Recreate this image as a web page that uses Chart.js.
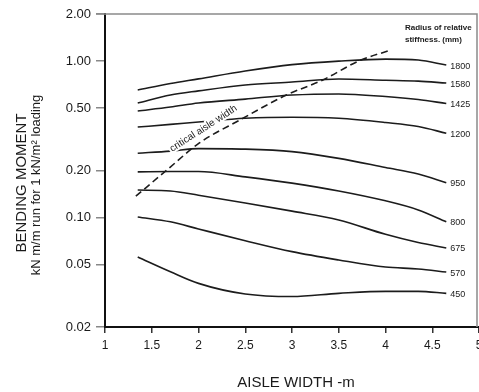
<!DOCTYPE html>
<html>
<head>
<meta charset="utf-8">
<script src="https://cdn.jsdelivr.net/npm/chart.js@4.4.1/dist/chart.umd.min.js"></script>
<style>
html,body{margin:0;padding:0;background:#fff;}
#wrap{width:479px;height:392px;position:relative;}
</style>
</head>
<body>
<div id="wrap"><canvas id="c" width="479" height="392"></canvas></div>
<script>
// ---- data ----
const aisleWidth = [1.35, 1.7, 2.0, 2.5, 3.0, 3.5, 4.0, 4.35, 4.65];
const stiffnessLabels = ['1800', '1580', '1425', '1200', '950', '800', '675', '570', '450'];
const m1800 = [0.654, 0.719, 0.77, 0.865, 0.95, 1.0, 1.03, 1.016, 0.944];
const m1580 = [0.54, 0.607, 0.645, 0.704, 0.735, 0.769, 0.755, 0.745, 0.724];
const m1425 = [0.48, 0.509, 0.54, 0.572, 0.607, 0.617, 0.594, 0.568, 0.536];
const m1200 = [0.379, 0.394, 0.408, 0.431, 0.438, 0.431, 0.405, 0.382, 0.346];
const m950  = [0.258, 0.266, 0.276, 0.274, 0.264, 0.239, 0.209, 0.190, 0.167];
const m800  = [0.196, 0.197, 0.197, 0.182, 0.166, 0.148, 0.128, 0.112, 0.094];
const m675  = [0.150, 0.148, 0.139, 0.124, 0.110, 0.0966, 0.0782, 0.0693, 0.064];
const m570  = [0.101, 0.094, 0.0846, 0.0712, 0.0606, 0.0536, 0.0483, 0.047, 0.0449];
const m450  = [0.056, 0.0451, 0.038, 0.0325, 0.0313, 0.0328, 0.0338, 0.0338, 0.0328];
const criticalX = [1.33, 1.66, 2.01, 2.44, 2.94, 3.33, 3.72, 4.06];
const criticalY = [0.137, 0.201, 0.30, 0.42, 0.607, 0.758, 1.006, 1.178];
const xTicks = [1, 1.5, 2, 2.5, 3, 3.5, 4, 4.5, 5];
const yTicks = [0.02, 0.05, 0.10, 0.20, 0.50, 1.00, 2.00];

const FONT = "'Liberation Sans', Arial, sans-serif";
const series = [m1800, m1580, m1425, m1200, m950, m800, m675, m570, m450];

const datasets = series.map((arr, i) => ({
  label: stiffnessLabels[i],
  data: aisleWidth.map((x, j) => ({x: x, y: arr[j]})),
  borderColor: '#1c1c1c',
  borderWidth: 1.6,
  pointRadius: 0,
  fill: false,
  cubicInterpolationMode: 'monotone'
}));
datasets.push({
  label: 'critical aisle width',
  data: criticalX.map((x, j) => ({x: x, y: criticalY[j]})),
  borderColor: '#1c1c1c',
  borderWidth: 1.6,
  borderDash: [7, 4],
  pointRadius: 0,
  fill: false,
  cubicInterpolationMode: 'monotone'
});

const overlay = {
  id: 'overlay',
  afterDraw(chart) {
    const {ctx, chartArea: a, scales: {x, y}} = chart;
    ctx.save();
    // frame top and right (gray)
    ctx.strokeStyle = '#8a8a8a';
    ctx.lineWidth = 1.5;
    ctx.beginPath();
    ctx.moveTo(a.left - 9, a.top);
    ctx.lineTo(a.right - 2, a.top);
    ctx.lineTo(a.right - 2, a.bottom);
    ctx.stroke();

    ctx.fillStyle = '#1a1a1a';
    // series end labels
    ctx.font = '9px ' + FONT;
    ctx.textAlign = 'left';
    ctx.textBaseline = 'middle';
    for (let i = 0; i < stiffnessLabels.length; i++) {
      const meta = chart.getDatasetMeta(i);
      const p = meta.data[meta.data.length - 1];
      ctx.fillText(stiffnessLabels[i], p.x + 4, p.y + 1);
    }
    // legend title
    ctx.font = 'bold 8px ' + FONT;
    ctx.fillText('Radius of relative', a.right - 74, a.top + 14);
    ctx.fillText('stiffness. (mm)', a.right - 74, a.top + 26);

    // critical aisle width text (with white halo breaking the curves behind it)
    const cx = x.getPixelForValue(2.07), cy = y.getPixelForValue(0.358);
    ctx.save();
    ctx.translate(cx, cy);
    ctx.rotate(-32.8 * Math.PI / 180);
    ctx.font = '10px ' + FONT;
    ctx.textAlign = 'center';
    ctx.textBaseline = 'alphabetic';
    ctx.strokeStyle = '#fff';
    ctx.lineWidth = 4;
    ctx.lineJoin = 'round';
    ctx.strokeText('critical aisle width', 0, 0);
    ctx.fillText('critical aisle width', 0, 0);
    ctx.restore();

    // axis titles
    ctx.textBaseline = 'middle';
    ctx.font = '15px ' + FONT;
    ctx.textAlign = 'center';
    ctx.fillText('AISLE WIDTH -m', (a.left + a.right) / 2 + 4, 383);
    ctx.save();
    ctx.translate(22, 183);
    ctx.rotate(-Math.PI / 2);
    ctx.font = '15px ' + FONT;
    ctx.fillText('BENDING MOMENT', 0, 0);
    ctx.restore();
    ctx.save();
    ctx.translate(36, 185);
    ctx.rotate(-Math.PI / 2);
    ctx.font = '13px ' + FONT;
    ctx.fillText('kN m/m run for 1 kN/m² loading', 0, 0);
    ctx.restore();
    ctx.restore();
  }
};

new Chart(document.getElementById('c'), {
  type: 'line',
  data: {datasets: datasets},
  plugins: [overlay],
  options: {
    responsive: false,
    animation: false,
    events: [],
    layout: {padding: {top: 14, right: 0, bottom: 0, left: 0}},
    plugins: {legend: {display: false}, tooltip: {enabled: false}},
    scales: {
      x: {
        type: 'linear', min: 1, max: 5,
        afterBuildTicks: s => { s.ticks = xTicks.map(v => ({value: v})); },
        ticks: {
          autoSkip: false, maxRotation: 0, padding: 5,
          color: '#1a1a1a', font: {size: 12, family: FONT},
          callback: v => String(v)
        },
        grid: {drawOnChartArea: false, drawTicks: true, tickLength: 6, color: '#333', lineWidth: 1.5},
        border: {color: '#111', width: 2},
        afterFit: s => { s.height = 65; s.paddingLeft = 0; s.paddingRight = 0; }
      },
      y: {
        type: 'logarithmic', min: 0.02, max: 2,
        afterBuildTicks: s => { s.ticks = yTicks.map(v => ({value: v})); },
        ticks: {
          autoSkip: false, padding: 5,
          color: '#1a1a1a', font: {size: 13, family: FONT},
          callback: v => Number(v).toFixed(2)
        },
        grid: {drawOnChartArea: false, drawTicks: true, tickLength: 9, color: '#888', lineWidth: 1.5},
        border: {color: '#111', width: 2},
        afterFit: s => { s.width = 105; s.paddingTop = 0; s.paddingBottom = 0; }
      }
    }
  }
});
</script>
</body>
</html>
